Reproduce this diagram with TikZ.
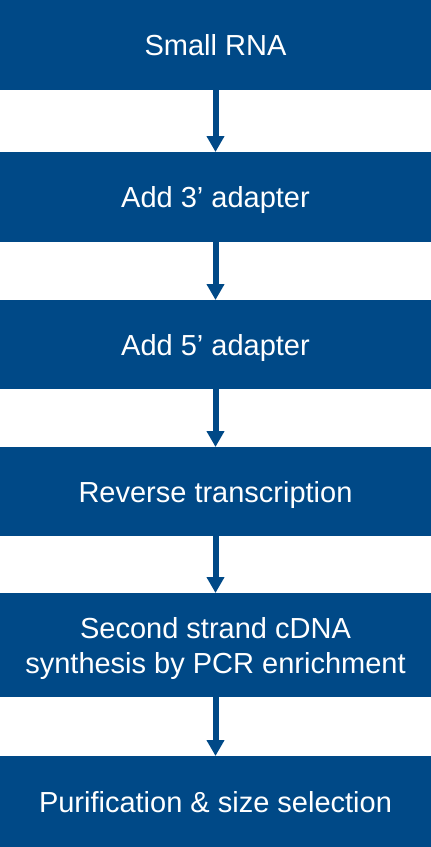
\documentclass[tikz,border=0pt]{standalone}
\usepackage{fontspec}
\setmainfont{Liberation Sans}
\usetikzlibrary{arrows.meta}
\definecolor{boxblue}{RGB}{0,73,135}
\begin{document}
\begin{tikzpicture}[x=1pt,y=-1pt,
  stepbox/.style={fill=boxblue,draw=none,text=white,minimum width=431pt,inner sep=0pt,
    font=\fontsize{29}{35}\selectfont,align=center,anchor=north,text depth=0pt},
  flow/.style={draw=boxblue,line width=6pt,-{Triangle[width=17pt,length=16pt]},shorten >=0pt}]
\useasboundingbox (0,0) rectangle (431,847);
\node[stepbox,minimum height=90pt] (a) at (215.5,0) {Small RNA};
\node[stepbox,minimum height=90pt] (b) at (215.5,152) {Add 3’ adapter};
\node[stepbox,minimum height=89pt] (c) at (215.5,300) {Add 5’ adapter};
\node[stepbox,minimum height=89pt] (d) at (215.5,447) {Reverse transcription};
\node[stepbox,minimum height=104pt] (e) at (215.5,593) {Second strand cDNA\\synthesis by PCR enrichment};
\node[stepbox,minimum height=91pt] (f) at (215.5,756) {Purification \& size selection};
\foreach \s/\t in {a/b,b/c,c/d,d/e,e/f}
  \draw[flow] (\s.south) -- (\t.north);
\end{tikzpicture}
\end{document}
